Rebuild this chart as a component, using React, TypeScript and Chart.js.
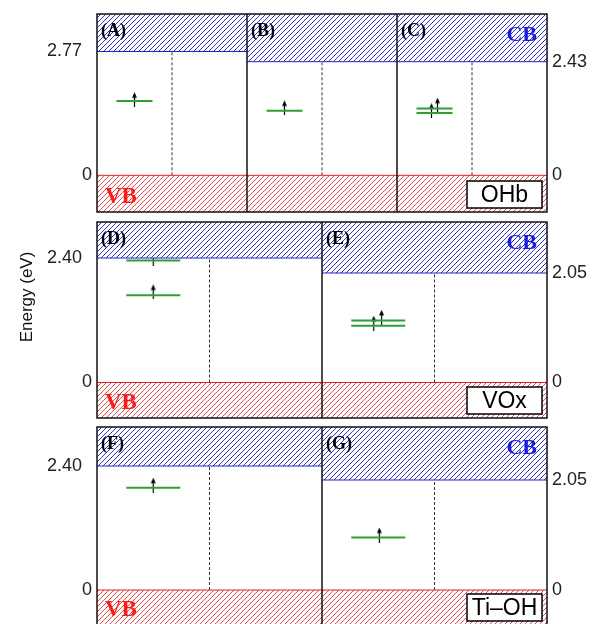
import React, { useEffect, useRef } from 'react';
import { Chart, registerables } from 'chart.js';
Chart.register(...registerables);

// ---------- Row 1: OHb (panels A, B, C) ----------
const ohbName = 'OHb';
const ohbPanels = ['(A)', '(B)', '(C)'];
const ohbCB = [2.77, 2.43, 2.43]; // conduction-band edge per panel (eV)
const ohbAxis = ['y', 'y2', 'y2'];
const ohbLevels = [[1.66], [1.38], [1.43, 1.33]];
const ohbSpinX = [[0.25], [0.25], [0.23, 0.27]];
const ohbSpinE = [[1.69], [1.44], [1.38, 1.5]];
const ohbLeftTicks = [0, 2.77];
const ohbRightTicks = [0, 2.43];

// ---------- Row 2: VOx (panels D, E) ----------
const voxName = 'VOx';
const voxPanels = ['(D)', '(E)'];
const voxCB = [2.4, 2.05];
const voxAxis = ['y', 'y2'];
const voxLevels = [[2.35, 1.68], [1.16, 1.06]];
const voxSpinX = [[0.25, 0.25], [0.23, 0.265]];
const voxSpinE = [[2.4, 1.745], [1.11, 1.22]];
const voxLeftTicks = [0, 2.4];
const voxRightTicks = [0, 2.05];

// ---------- Row 3: Ti–OH (panels F, G) ----------
const tiohName = 'Ti\u2013OH';
const tiohPanels = ['(F)', '(G)'];
const tiohCB = [2.4, 2.05];
const tiohAxis = ['y', 'y2'];
const tiohLevels = [[1.98], [0.98]];
const tiohSpinX = [[0.25], [0.255]];
const tiohSpinE = [[2.03], [1.025]];
const tiohLeftTicks = [0, 2.4];
const tiohRightTicks = [0, 2.05];

const yTitle = 'Energy (eV)';

const LEVEL_X0 = 0.13;
const LEVEL_X1 = 0.37;

const SANS = '"Liberation Sans", Arial, Helvetica, sans-serif';
const SERIF = '"Liberation Serif", "Times New Roman", serif';

const ROWS = [
  {
    name: ohbName, panels: ohbPanels, cb: ohbCB, axis: ohbAxis, levels: ohbLevels,
    spinX: ohbSpinX, spinE: ohbSpinE, leftTicks: ohbLeftTicks, rightTicks: ohbRightTicks,
    top: 0, height: 220, padTop: 14, padBottom: 8,
    yRange: [-0.821, 3.609], y2Range: [-0.785, 3.45], title: '', titleY: 0,
  },
  {
    name: voxName, panels: voxPanels, cb: voxCB, axis: voxAxis, levels: voxLevels,
    spinX: voxSpinX, spinE: voxSpinE, leftTicks: voxLeftTicks, rightTicks: voxRightTicks,
    top: 214, height: 212, padTop: 8, padBottom: 8,
    yRange: [-0.684, 3.094], y2Range: [-0.665, 3.005], title: yTitle, titleY: 83,
  },
  {
    name: tiohName, panels: tiohPanels, cb: tiohCB, axis: tiohAxis, levels: tiohLevels,
    spinX: tiohSpinX, spinE: tiohSpinE, leftTicks: tiohLeftTicks, rightTicks: tiohRightTicks,
    top: 419, height: 214, padTop: 8, padBottom: 8,
    yRange: [-0.677, 3.155], y2Range: [-0.652, 3.038], title: '', titleY: 0,
  },
];

function makeHatch(ctx: CanvasRenderingContext2D, color: string) {
  const s = 5;
  const c = document.createElement('canvas');
  c.width = s;
  c.height = s;
  const g = c.getContext('2d')!;
  g.fillStyle = '#ffffff';
  g.fillRect(0, 0, s, s);
  g.strokeStyle = color;
  g.lineWidth = 1;
  g.beginPath();
  g.moveTo(0, s);
  g.lineTo(s, 0);
  g.moveTo(-1, 1);
  g.lineTo(1, -1);
  g.moveTo(s - 1, s + 1);
  g.lineTo(s + 1, s - 1);
  g.stroke();
  return ctx.createPattern(c, 'repeat');
}

function makeArrow() {
  const c = document.createElement('canvas');
  c.width = 7;
  c.height = 15;
  const g = c.getContext('2d')!;
  g.strokeStyle = '#000';
  g.lineWidth = 1.2;
  g.beginPath();
  g.moveTo(3.5, 4);
  g.lineTo(3.5, 15);
  g.stroke();
  g.fillStyle = '#000';
  g.beginPath();
  g.moveTo(3.5, 0);
  g.lineTo(1, 5.5);
  g.lineTo(6, 5.5);
  g.closePath();
  g.fill();
  return c;
}

const decor = {
  id: 'decor',
  afterDraw(chart: any, _args: any, opts: any) {
    const { ctx, chartArea: a, scales } = chart;
    const x = scales.x;
    ctx.save();
    ctx.strokeStyle = '#111';
    ctx.lineWidth = 1.5;
    for (let i = 1; i < opts.n; i++) {
      const px = x.getPixelForValue(i);
      ctx.beginPath();
      ctx.moveTo(px, a.top);
      ctx.lineTo(px, a.bottom);
      ctx.stroke();
    }
    ctx.strokeRect(a.left, a.top, a.right - a.left, a.bottom - a.top);

    ctx.fillStyle = '#000';
    ctx.font = 'bold 18px ' + SERIF;
    ctx.textAlign = 'left';
    ctx.textBaseline = 'alphabetic';
    opts.panels.forEach((p: string, i: number) => ctx.fillText(p, x.getPixelForValue(i) + 4, a.top + 22));

    ctx.fillStyle = '#1a1ae6';
    ctx.font = 'bold 22px ' + SERIF;
    ctx.textAlign = 'right';
    ctx.fillText('CB', a.right - 10, a.top + 27);

    ctx.fillStyle = '#ff1a1a';
    ctx.font = 'bold 23px ' + SERIF;
    ctx.textAlign = 'left';
    ctx.fillText('VB', a.left + 8, a.bottom - 9);

    const bw = 75, bh = 27;
    const bx = a.right - 80, by = a.bottom - 31;
    ctx.fillStyle = '#fff';
    ctx.fillRect(bx, by, bw, bh);
    ctx.strokeStyle = '#000';
    ctx.lineWidth = 1.5;
    ctx.strokeRect(bx, by, bw, bh);
    ctx.fillStyle = '#000';
    ctx.font = '23px ' + SANS;
    ctx.textAlign = 'center';
    ctx.textBaseline = 'middle';
    ctx.fillText(opts.name, bx + bw / 2, by + bh / 2 + 1);

    if (opts.title) {
      ctx.translate(27, opts.titleY);
      ctx.rotate(-Math.PI / 2);
      ctx.font = '17px ' + SANS;
      ctx.fillStyle = '#111';
      ctx.textAlign = 'center';
      ctx.textBaseline = 'middle';
      ctx.fillText(opts.title, 0, 0);
    }
    ctx.restore();
  },
};

function fmtLeft(v: number) {
  return v === 0 ? '0' : v.toFixed(2) + '  ';
}
function fmtRight(v: number) {
  return v === 0 ? '0' : v.toFixed(2);
}

function RowChart({ row }: { row: any }) {
  const ref = useRef<HTMLCanvasElement>(null);
  useEffect(() => {
    const canvas = ref.current!;
    const ctx = canvas.getContext('2d')!;
    const blue = makeHatch(ctx, '#3535c8');
    const red = makeHatch(ctx, '#e85050');
    const arrow = makeArrow();
    const n = row.panels.length;
    const datasets: any[] = [];

    datasets.push({
      type: 'line', data: [{ x: 0, y: 0 }, { x: n, y: 0 }], yAxisID: 'y',
      fill: 'start', backgroundColor: red, borderColor: '#e02020', borderWidth: 1, pointRadius: 0,
    });
    row.cb.forEach((cb: number, i: number) => {
      datasets.push({
        type: 'line', data: [{ x: i, y: cb }, { x: i + 1, y: cb }], yAxisID: row.axis[i],
        fill: 'end', backgroundColor: blue, borderColor: '#2020d0', borderWidth: 1, pointRadius: 0,
      });
      datasets.push({
        type: 'line', data: [{ x: i + 0.5, y: 0 }, { x: i + 0.5, y: cb }], yAxisID: row.axis[i],
        fill: false, borderColor: '#333', borderWidth: 1, borderDash: [3, 2], pointRadius: 0,
      });
    });
    row.levels.forEach((lv: number[], i: number) => {
      lv.forEach((e: number) => {
        datasets.push({
          type: 'line', data: [{ x: i + LEVEL_X0, y: e }, { x: i + LEVEL_X1, y: e }], yAxisID: row.axis[i],
          fill: false, borderColor: '#2f9e35', borderWidth: 2, pointRadius: 0,
        });
      });
    });
    row.spinX.forEach((xs: number[], i: number) => {
      datasets.push({
        type: 'scatter', data: xs.map((xv: number, k: number) => ({ x: i + xv, y: row.spinE[i][k] })),
        yAxisID: row.axis[i], pointStyle: arrow, pointRadius: 7, showLine: false,
      });
    });

    const tickFont = { family: SANS, size: 18 };
    const chart = new Chart(canvas, {
      type: 'line',
      data: { datasets },
      plugins: [decor],
      options: {
        animation: false,
        responsive: false,
        devicePixelRatio: 1,
        layout: { padding: { top: row.padTop, bottom: row.padBottom, left: 0, right: 0 } },
        plugins: {
          legend: { display: false },
          tooltip: { enabled: false },
          decor: { n, panels: row.panels, name: row.name, title: row.title, titleY: row.titleY },
        } as any,
        scales: {
          x: { type: 'linear', min: 0, max: n, display: false },
          y: {
            type: 'linear', position: 'left', min: row.yRange[0], max: row.yRange[1],
            grid: { display: false, drawTicks: false }, border: { display: false },
            afterBuildTicks: (axis: any) => { axis.ticks = row.leftTicks.map((v: number) => ({ value: v })); },
            afterFit: (axis: any) => { axis.width = 97; axis.paddingTop = 0; axis.paddingBottom = 0; },
            ticks: { font: tickFont, color: '#222', padding: 5, callback: (v: any) => fmtLeft(Number(v)) },
          },
          y2: {
            type: 'linear', position: 'right', min: row.y2Range[0], max: row.y2Range[1],
            grid: { display: false, drawTicks: false }, border: { display: false },
            afterBuildTicks: (axis: any) => { axis.ticks = row.rightTicks.map((v: number) => ({ value: v })); },
            afterFit: (axis: any) => { axis.width = 46; axis.paddingTop = 0; axis.paddingBottom = 0; },
            ticks: { font: tickFont, color: '#222', padding: 5, callback: (v: any) => fmtRight(Number(v)) },
          },
        },
      } as any,
    });
    return () => chart.destroy();
  }, [row]);
  return (
    <canvas
      ref={ref}
      width={593}
      height={row.height}
      style={{ position: 'absolute', left: 0, top: row.top, width: 593, height: row.height }}
    />
  );
}

export default function App() {
  return (
    <div style={{ position: 'fixed', left: 0, top: 0, width: 593, height: 624, overflow: 'hidden', background: '#fff' }}>
      {ROWS.map((r, i) => (
        <RowChart key={i} row={r} />
      ))}
    </div>
  );
}
